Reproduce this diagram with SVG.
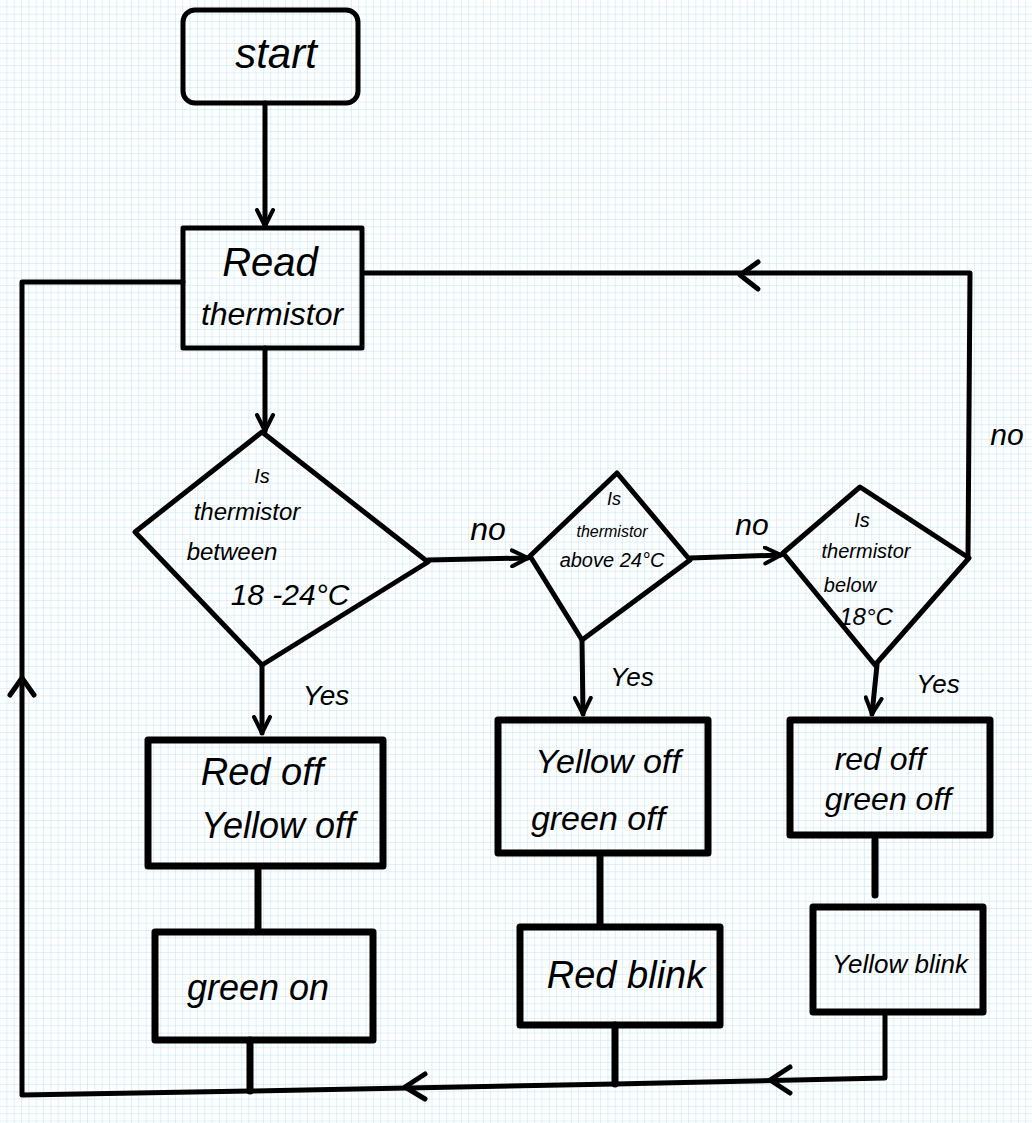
<svg xmlns="http://www.w3.org/2000/svg" width="1032" height="1123" viewBox="0 0 1032 1123">
<defs>
<pattern id="grid" width="7.33" height="7.33" patternUnits="userSpaceOnUse">
<path d="M7.33 0V7.33M0 7.33H7.33" fill="none" stroke="#c4e1f1" stroke-width="1"/>
</pattern>
<marker id="arr" viewBox="0 0 20 20" refX="18" refY="10" markerWidth="20" markerHeight="20" markerUnits="userSpaceOnUse" orient="auto">
<path d="M2 2L18 10L2 18" fill="none" stroke="#000" stroke-width="4" stroke-linecap="round" stroke-linejoin="round"/>
</marker>
</defs>
<style>
.s{fill:none;stroke:#000;stroke-width:5;stroke-linecap:round;stroke-linejoin:round}
.b{fill:none;stroke:#000;stroke-width:7;stroke-linecap:round;stroke-linejoin:round}
.t{font-family:"Liberation Sans",Arial,sans-serif;fill:#000;text-anchor:middle;font-style:italic}
</style>
<rect width="1032" height="1123" fill="#fdfefe"/>
<rect width="1032" height="1123" fill="url(#grid)"/>

<g id="connectors">
<path class="s" d="M265 103V226" marker-end="url(#arr)"/>
<path class="s" d="M265 348V431" marker-end="url(#arr)"/>
<path class="s" d="M428 560L528 558" marker-end="url(#arr)"/>
<path class="s" d="M690 558L781 555" marker-end="url(#arr)"/>
<path class="s" d="M968 558L970 273H365"/>
<path class="s" d="M758 262L740 275L758 289"/>
<path class="s" d="M183 282H22V1095L250 1091L615 1084L885 1078V1012"/>
<path class="s" d="M10 695L22 678L34 695"/>
<path class="s" d="M425 1074L405 1087L425 1099"/>
<path class="s" d="M790 1067L770 1080L790 1093"/>
<path class="s" d="M262 665V733" marker-end="url(#arr)"/>
<path class="s" d="M582 640L583 714" marker-end="url(#arr)"/>
<path class="s" d="M877 665L872 714" marker-end="url(#arr)"/>
<path class="b" d="M258 868V930"/>
<path class="b" d="M600 855V925"/>
<path class="b" d="M875 840V895"/>
<path class="b" d="M250 1040V1091"/>
<path class="b" d="M615 1025V1084"/>
<text class="t" x="488" y="540" font-size="32">no</text>
<text class="t" x="752" y="535" font-size="30">no</text>
<text class="t" x="1007" y="445" font-size="30">no</text>
<text class="t" x="326" y="705" font-size="28">Yes</text>
<text class="t" x="632" y="686" font-size="26">Yes</text>
<text class="t" x="938" y="693" font-size="26">Yes</text>
</g>

<g id="start">
<rect class="s" x="183" y="10" width="175" height="93" rx="12"/>
<text class="t" x="276" y="68" font-size="42">start</text>
</g>

<g id="read">
<rect class="s" x="183" y="228" width="179" height="120"/>
<text class="t" x="270" y="276" font-size="40">Read</text>
<text class="t" x="272" y="325" font-size="32">thermistor</text>
</g>

<g id="dec1">
<path class="s" d="M262 432L428 562L262 665L135 532Z"/>
<text class="t" x="262" y="483" font-size="20">Is</text>
<text class="t" x="247" y="520" font-size="24">thermistor</text>
<text class="t" x="232" y="560" font-size="24">between</text>
<text class="t" x="290" y="605" font-size="30">18 -24°C</text>
</g>

<g id="dec2">
<path class="s" d="M617 473L690 560L582 640L530 556Z"/>
<text class="t" x="614" y="505" font-size="18">Is</text>
<text class="t" x="612" y="537" font-size="16">thermistor</text>
<text class="t" x="612" y="567" font-size="20">above 24°C</text>
</g>

<g id="dec3">
<path class="s" d="M860 487L969 558L875 665L783 553Z"/>
<text class="t" x="862" y="527" font-size="20">Is</text>
<text class="t" x="866" y="558" font-size="20">thermistor</text>
<text class="t" x="850" y="592" font-size="20">below</text>
<text class="t" x="866" y="625" font-size="24">18°C</text>
</g>

<g id="box1">
<rect class="b" x="148" y="740" width="235" height="126"/>
<text class="t" x="262" y="785" font-size="38">Red off</text>
<text class="t" x="278" y="838" font-size="36">Yellow off</text>
</g>

<g id="box2">
<rect class="b" x="498" y="720" width="210" height="133"/>
<text class="t" x="608" y="773" font-size="34">Yellow off</text>
<text class="t" x="598" y="830" font-size="34">green off</text>
</g>

<g id="box3">
<rect class="b" x="790" y="720" width="200" height="115"/>
<text class="t" x="880" y="770" font-size="32">red off</text>
<text class="t" x="888" y="810" font-size="32">green off</text>
</g>

<g id="box4">
<rect class="b" x="155" y="932" width="218" height="108"/>
<text class="t" x="258" y="1000" font-size="36">green on</text>
</g>

<g id="box5">
<rect class="b" x="520" y="927" width="200" height="98"/>
<text class="t" x="626" y="988" font-size="38">Red blink</text>
</g>

<g id="box6">
<rect class="b" x="813" y="907" width="170" height="105"/>
<text class="t" x="900" y="973" font-size="26">Yellow blink</text>
</g>
</svg>
